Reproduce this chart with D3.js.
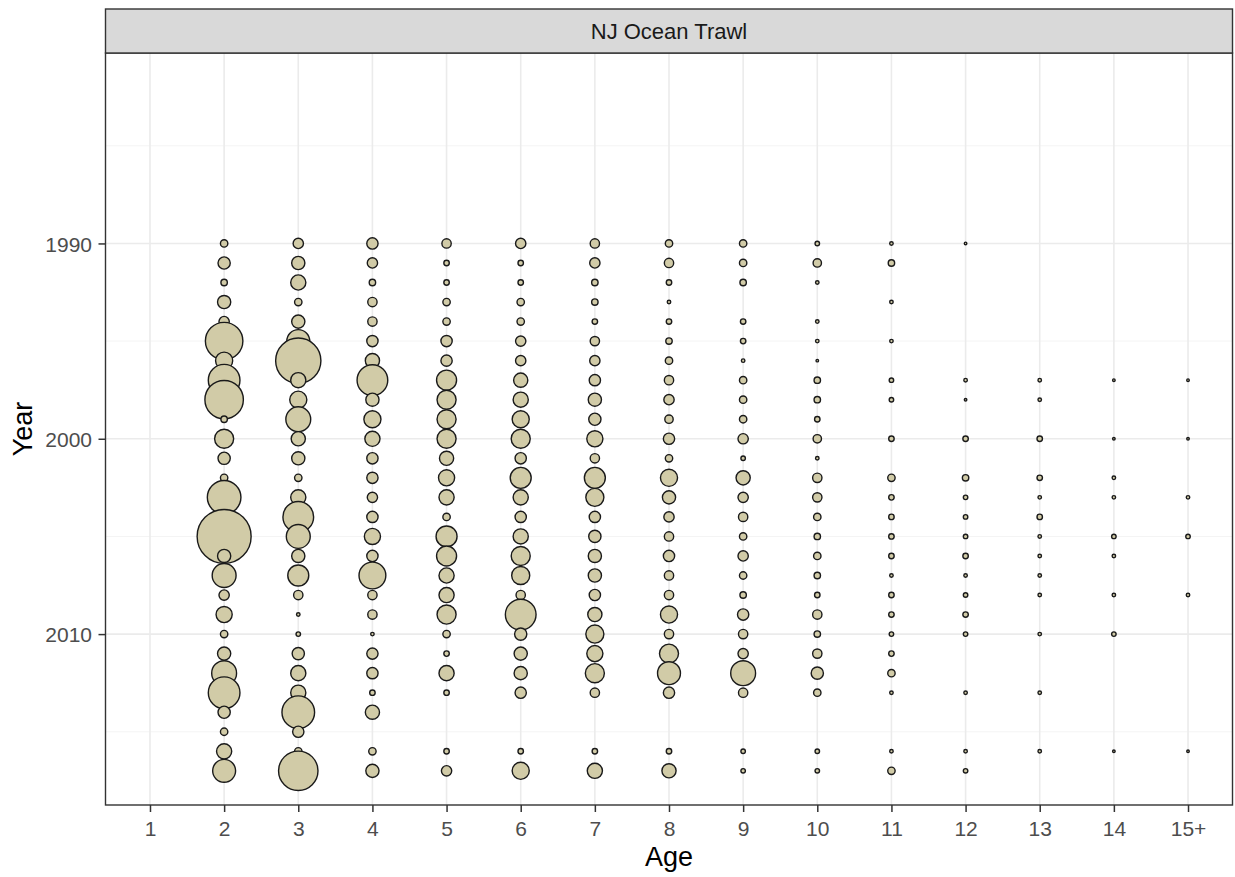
<!DOCTYPE html>
<html><head><meta charset="utf-8">
<script src="https://cdn.jsdelivr.net/npm/d3@7"></script>
<style>body{margin:0;background:#fff}text{font-family:"Liberation Sans",Arial,sans-serif}</style>
</head><body><svg id="c" width="1235" height="877"></svg>
<script>
// ---- data (years 1990..2017; null = no observation) ----
const ages = ["1","2","3","4","5","6","7","8","9","10","11","12","13","14","15+"];
const years = [1990,1991,1992,1993,1994,1995,1996,1997,1998,1999,2000,2001,2002,2003,2004,2005,2006,2007,2008,2009,2010,2011,2012,2013,2014,2015,2016,2017];
const yTicks = [1990, 2000, 2010];
const yMinor = [1985, 1995, 2005, 2015];
const panelTitle = "NJ Ocean Trawl";

const age1  = [null,null,null,null,null,null,null,null,null,null,null,null,null,null,null,null,null,null,null,null,null,null,null,null,null,null,null,null];
const age2  = [7,12,6,13,10,38,17,32,39,6, 19,12,7,34,10,55,13,24,10,16, 7,13,25,32,12,7,15,23];
const age3  = [10,13,15,7,13,23,46,15,17,25, 14,13,7,15,31,24,13,21,9,3, 4,12,15,15,33,11,7,40];
const age4  = [11,10,6,9,9,11,14,31,13,17, 15,11,11,10,11,16,11,27,9,9, 3,11,11,5,14,null,7,13];
const age5  = [9,5,5,7,7,11,11,20,19,19, 19,14,16,15,7,21,20,15,15,19, 7,5,15,5,null,null,5,10];
const age6  = [10,5,5,7,7,10,10,14,15,17, 19,11,21,15,11,15,19,18,9,31, 12,13,13,11,null,null,5,17];
const age7  = [9,10,6,6,5,9,10,11,13,12, 16,9,21,18,11,12,13,13,11,14, 18,16,19,9,null,null,5,15];
const age8  = [7,9,5,3,5,6,7,9,10,8, 11,7,17,13,10,9,11,9,9,17, 9,19,23,11,null,null,5,14];
const age9  = [7,7,6,null,5,5,3,7,7,7, 10,4,14,10,9,7,10,7,6,11, 9,10,25,9,null,null,4,4];
const age10 = [4,8,3,null,3,3,2,6,6,5, 8,3,9,9,7,6,7,6,5,9, 6,9,12,7,null,null,4,4];
const age11 = [3,6,null,3,null,3,null,4,4,null, 5,null,7,5,5,5,5,3,5,5, 4,5,7,3,null,null,3,7];
const age12 = [2,null,null,null,null,null,null,3,2,null, 5,null,6,4,4,4,5,3,4,5, 4,null,null,3,null,null,3,4];
const age13 = [null,null,null,null,null,null,null,3,3,null, 5,null,5,3,5,3,3,3,3,null, 3,null,null,3,null,null,3,null];
const age14 = [null,null,null,null,null,null,null,2,null,null, 2,null,3,3,null,4,3,null,3,null, 4,null,null,null,null,null,2,null];
const age15 = [null,null,null,null,null,null,null,2,null,null, 2,null,null,3,null,4,null,null,3,null, null,null,null,null,null,null,2,null];
const series = [age1,age2,age3,age4,age5,age6,age7,age8,age9,age10,age11,age12,age13,age14,age15];

// ---- layout ----
const L = 105.5, R = 1232.5, T = 53, B = 805, stripTop = 9;
const FONT = '"Liberation Sans",Arial,sans-serif';
const svg = d3.select("#c");

const x = d3.scalePoint().domain(ages).range([L, R]).padding(0.6);
const y = d3.scaleLinear().domain([1980.25, 2018.75]).range([T, B]);
const r = d3.scaleLinear().domain([0, 55]).range([0.3, 27]);

svg.append("rect").attr("x", L).attr("y", T).attr("width", R - L).attr("height", B - T).attr("fill", "#fff");

// grid
const grid = svg.append("g");
grid.selectAll(".ymin").data(yMinor).join("line")
  .attr("x1", L).attr("x2", R).attr("y1", d => y(d)).attr("y2", d => y(d))
  .attr("stroke", "#f3f3f3").attr("stroke-width", 0.9);
grid.selectAll(".ymaj").data(yTicks).join("line")
  .attr("x1", L).attr("x2", R).attr("y1", d => y(d)).attr("y2", d => y(d))
  .attr("stroke", "#ebebeb").attr("stroke-width", 1.6);
grid.selectAll(".xmaj").data(ages).join("line")
  .attr("x1", d => x(d)).attr("x2", d => x(d)).attr("y1", T).attr("y2", B)
  .attr("stroke", "#ebebeb").attr("stroke-width", 1.6);

// bubbles
const pts = [];
series.forEach((s, i) => s.forEach((v, j) => { if (v != null) pts.push({age: ages[i], year: years[j], v}); }));
svg.append("g").selectAll("circle").data(pts).join("circle")
  .attr("cx", d => x(d.age)).attr("cy", d => y(d.year)).attr("r", d => r(d.v))
  .attr("fill", "#d1cba7").attr("stroke", "#1a1a1a").attr("stroke-width", 1.4);

// panel border
svg.append("rect").attr("x", L).attr("y", T).attr("width", R - L).attr("height", B - T)
  .attr("fill", "none").attr("stroke", "#333").attr("stroke-width", 1.4);

// strip
svg.append("rect").attr("x", L).attr("y", stripTop).attr("width", R - L).attr("height", T - stripTop)
  .attr("fill", "#d9d9d9").attr("stroke", "#333").attr("stroke-width", 1.4);
svg.append("text").attr("x", (L + R) / 2).attr("y", 39).attr("text-anchor", "middle")
  .attr("font-size", 22).attr("fill", "#1a1a1a").text(panelTitle);

// axes
const xa = svg.append("g").attr("transform", `translate(0,${B})`)
  .call(d3.axisBottom(x).tickSize(7).tickSizeOuter(0));
xa.select(".domain").remove();
xa.selectAll("line").attr("stroke", "#333").attr("stroke-width", 1.5);
xa.selectAll("text").attr("y", 31).attr("dy", 0).attr("font-size", 21).attr("fill", "#4d4d4d")
  .style("font-family", FONT);

const ya = svg.append("g").attr("transform", `translate(${L},0)`)
  .call(d3.axisLeft(y).tickValues(yTicks).tickFormat(d3.format("d")).tickSize(7).tickSizeOuter(0));
ya.select(".domain").remove();
ya.selectAll("line").attr("stroke", "#333").attr("stroke-width", 1.5);
ya.selectAll("text").attr("x", -13.5).attr("dy", "0.36em").attr("font-size", 21).attr("fill", "#4d4d4d")
  .style("font-family", FONT);

// titles
svg.append("text").attr("x", (L + R) / 2).attr("y", 866).attr("text-anchor", "middle")
  .attr("font-size", 27).attr("fill", "#000").text("Age");
svg.append("text").attr("transform", `translate(32,${(T + B) / 2}) rotate(-90)`).attr("text-anchor", "middle")
  .attr("font-size", 27).attr("fill", "#000").text("Year");
</script></body></html>
